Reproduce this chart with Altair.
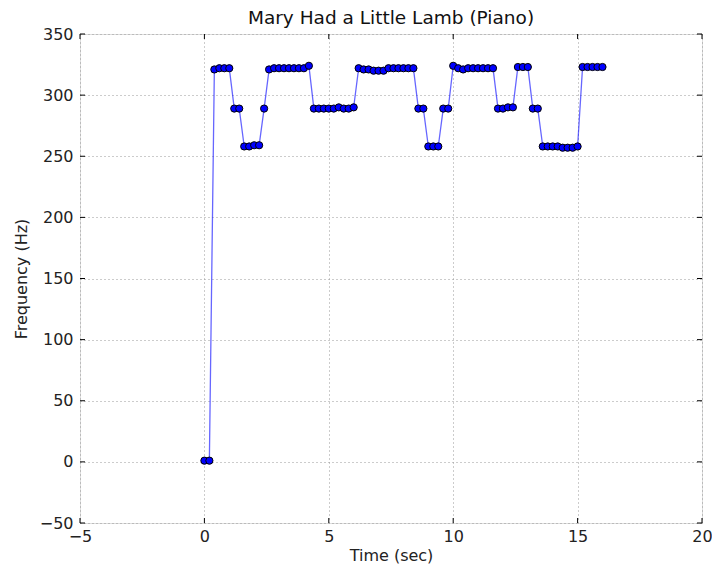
import altair as alt
import pandas as pd

# ---- data ----
time_sec = [
    0.0, 0.2, 0.4, 0.6, 0.8, 1.0, 1.2, 1.4, 1.6, 1.8,
    2.0, 2.2, 2.4, 2.6, 2.8, 3.0, 3.2, 3.4, 3.6, 3.8,
    4.0, 4.2, 4.4, 4.6, 4.8, 5.0, 5.2, 5.4, 5.6, 5.8,
    6.0, 6.2, 6.4, 6.6, 6.8, 7.0, 7.2, 7.4, 7.6, 7.8,
    8.0, 8.2, 8.4, 8.6, 8.8, 9.0, 9.2, 9.4, 9.6, 9.8,
    10.0, 10.2, 10.4, 10.6, 10.8, 11.0, 11.2, 11.4, 11.6, 11.8,
    12.0, 12.2, 12.4, 12.6, 12.8, 13.0, 13.2, 13.4, 13.6, 13.8,
    14.0, 14.2, 14.4, 14.6, 14.8, 15.0, 15.2, 15.4, 15.6, 15.8,
    16.0,
]
freq_hz = [
    1, 1,
    321, 322, 322, 322,
    289, 289,
    258, 258, 259, 259,
    289,
    321, 322, 322, 322, 322, 322, 322, 322, 324,
    289, 289, 289, 289, 289, 290, 289, 289, 290,
    322, 321, 321, 320, 320, 320, 322, 322, 322, 322, 322, 322,
    289, 289,
    258, 258, 258,
    289, 289,
    324, 322, 321, 322, 322, 322, 322, 322, 322,
    289, 289, 290, 290,
    323, 323, 323,
    289, 289,
    258, 258, 258, 258, 257, 257, 257, 258,
    323, 323, 323, 323, 323,
]
x_ticks = [-5, 0, 5, 10, 15, 20]
y_ticks = [-50, 0, 50, 100, 150, 200, 250, 300, 350]

W, H = 622, 489
FONT = "DejaVu Sans"

df = pd.DataFrame({"t": time_sec, "f": freq_hz})
xt = pd.DataFrame({"t": x_ticks})
yt = pd.DataFrame({"f": y_ticks})

xs = alt.Scale(domain=[-5, 20], nice=False, zero=False)
ys = alt.Scale(domain=[-50, 350], nice=False, zero=False)

x_axis = alt.Axis(
    title="Time (sec)", values=x_ticks, format="d", ticks=False, domain=False,
    grid=True, gridDash=[1, 3], gridColor="#999999", gridWidth=1,
    labelFont=FONT, labelFontSize=16, labelColor="#222222", labelPadding=5,
    titleFont=FONT, titleFontSize=16, titleFontWeight="normal", titleColor="#222222",
    titlePadding=3, labelFlush=False,
)
y_axis = alt.Axis(
    title="Frequency (Hz)", values=y_ticks, format="d", ticks=False, domain=False,
    grid=True, gridDash=[1, 3], gridColor="#999999", gridWidth=1,
    labelFont=FONT, labelFontSize=16, labelColor="#222222", labelPadding=7,
    titleFont=FONT, titleFontSize=16, titleFontWeight="normal", titleColor="#222222",
    titlePadding=10, labelFlush=False,
)

base = alt.Chart(df)
line = base.mark_line(color="#0000ff", strokeWidth=1.3, opacity=0.6).encode(
    x=alt.X("t:Q", scale=xs, axis=x_axis),
    y=alt.Y("f:Q", scale=ys, axis=y_axis),
)
pts = base.mark_circle(size=52, color="#0000ff", stroke="black", strokeWidth=1, opacity=1).encode(
    x=alt.X("t:Q", scale=xs, axis=x_axis),
    y=alt.Y("f:Q", scale=ys, axis=y_axis),
)

tick_len = 5
bottom_ticks = alt.Chart(xt).mark_rule(color="black", strokeWidth=1).encode(
    x=alt.X("t:Q", scale=xs, axis=x_axis), y=alt.value(H), y2=alt.value(H - tick_len)
)
top_ticks = alt.Chart(xt).mark_rule(color="black", strokeWidth=1).encode(
    x=alt.X("t:Q", scale=xs, axis=x_axis), y=alt.value(0), y2=alt.value(tick_len)
)
left_ticks = alt.Chart(yt).mark_rule(color="black", strokeWidth=1).encode(
    y=alt.Y("f:Q", scale=ys, axis=y_axis), x=alt.value(0), x2=alt.value(tick_len)
)
right_ticks = alt.Chart(yt).mark_rule(color="black", strokeWidth=1).encode(
    y=alt.Y("f:Q", scale=ys, axis=y_axis), x=alt.value(W), x2=alt.value(W - tick_len)
)

chart = (
    alt.layer(line, pts, bottom_ticks, top_ticks, left_ticks, right_ticks)
    .properties(
        width=W,
        height=H,
        title=alt.TitleParams(
            "Mary Had a Little Lamb (Piano)", font=FONT, fontSize=18.5,
            fontWeight="normal", color="#111111", offset=-1, anchor="middle",
            frame="group",
        ),
        padding={"left": 72, "top": 26, "right": 10, "bottom": 42},
        autosize=alt.AutoSizeParams(type="none"),
    )
    .configure_view(stroke="#222222", strokeWidth=1.3)
    .configure(background="white")
)

chart.save("out.html", embed_options={"renderer": "svg", "actions": False})
